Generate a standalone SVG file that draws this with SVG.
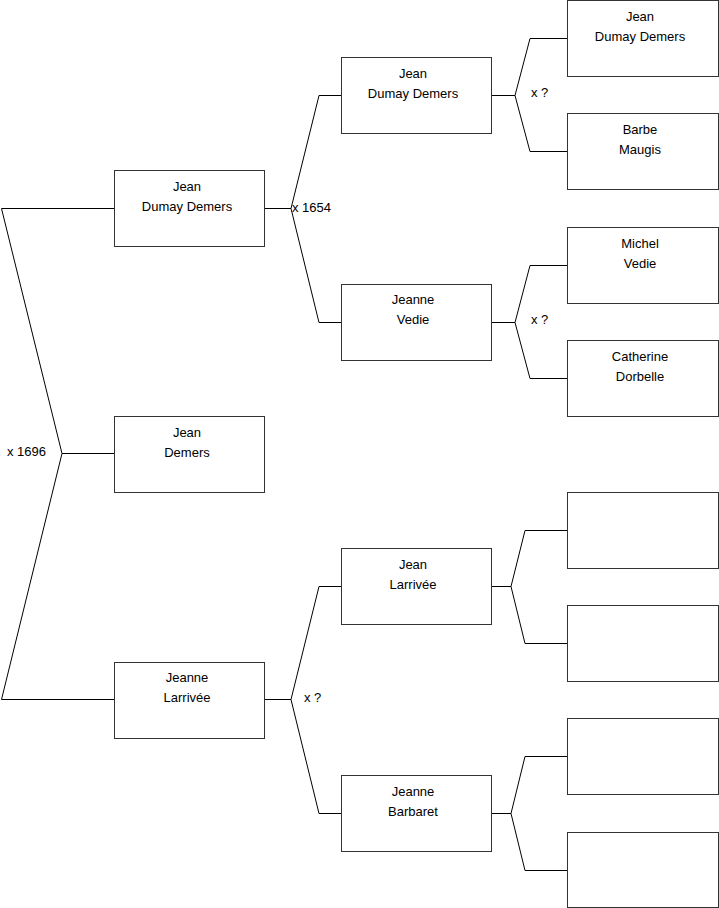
<svg xmlns="http://www.w3.org/2000/svg" width="719" height="908" viewBox="0 0 719 908">
<style>
.box{fill:#fff;stroke:#333;stroke-width:1}
.ln{fill:none;stroke:#000;stroke-width:1}
text{font-family:"Liberation Sans",Arial,sans-serif;font-size:13px;fill:#000}
.c{text-anchor:middle}
</style>
<rect width="719" height="908" fill="#fff"/>
<g id="connectors">
<path class="ln" d="M114,208.5H1.5L62,453.5L1.5,699.5H114M62,453.5H114"/>
<path class="ln" d="M265,208.5H291M341,95.5H319L291,208.5L319,322.5H341"/>
<path class="ln" d="M265,699.5H291M341,586.5H319L291,699.5L319,813.5H341"/>
<path class="ln" d="M492,95.5H515M567,38.5H530L515,95.5L530,151.5H567"/>
<path class="ln" d="M492,322.5H515M567,265.5H530L515,322.5L530,378.5H567"/>
<path class="ln" d="M492,586.5H511M567,530.5H525L511,586.5L525,643.5H567"/>
<path class="ln" d="M492,813.5H511M567,756.5H525L511,813.5L525,870.5H567"/>
<text x="7" y="456">x 1696</text>
<text x="292" y="212">x 1654</text>
<text x="304" y="702">x ?</text>
<text x="531" y="97">x ?</text>
<text x="531" y="324">x ?</text>
</g>
<g id="n1"><rect class="box" x="114.5" y="170.5" width="150" height="76"/><text class="c" x="187" y="191">Jean</text><text class="c" x="187" y="211">Dumay Demers</text></g>
<g id="n0"><rect class="box" x="114.5" y="416.5" width="150" height="76"/><text class="c" x="187" y="437">Jean</text><text class="c" x="187" y="457">Demers</text></g>
<g id="n2"><rect class="box" x="114.5" y="662.5" width="150" height="76"/><text class="c" x="187" y="682">Jeanne</text><text class="c" x="187" y="702">Larrivée</text></g>
<g id="n3"><rect class="box" x="341.5" y="57.5" width="150" height="76"/><text class="c" x="413" y="78">Jean</text><text class="c" x="413" y="98">Dumay Demers</text></g>
<g id="n4"><rect class="box" x="341.5" y="284.5" width="150" height="76"/><text class="c" x="413" y="304">Jeanne</text><text class="c" x="413" y="324">Vedie</text></g>
<g id="n5"><rect class="box" x="341.5" y="548.5" width="150" height="76"/><text class="c" x="413" y="569">Jean</text><text class="c" x="413" y="589">Larrivée</text></g>
<g id="n6"><rect class="box" x="341.5" y="775.5" width="150" height="76"/><text class="c" x="413" y="796">Jeanne</text><text class="c" x="413" y="816">Barbaret</text></g>
<g id="n7"><rect class="box" x="567.5" y="0.5" width="151" height="76"/><text class="c" x="640" y="21">Jean</text><text class="c" x="640" y="41">Dumay Demers</text></g>
<g id="n8"><rect class="box" x="567.5" y="113.5" width="151" height="76"/><text class="c" x="640" y="134">Barbe</text><text class="c" x="640" y="154">Maugis</text></g>
<g id="n9"><rect class="box" x="567.5" y="227.5" width="151" height="76"/><text class="c" x="640" y="248">Michel</text><text class="c" x="640" y="268">Vedie</text></g>
<g id="n10"><rect class="box" x="567.5" y="340.5" width="151" height="76"/><text class="c" x="640" y="361">Catherine</text><text class="c" x="640" y="381">Dorbelle</text></g>
<g id="n11"><rect class="box" x="567.5" y="492.5" width="151" height="76"/></g>
<g id="n12"><rect class="box" x="567.5" y="605.5" width="151" height="76"/></g>
<g id="n13"><rect class="box" x="567.5" y="718.5" width="151" height="76"/></g>
<g id="n14"><rect class="box" x="567.5" y="832.5" width="151" height="75"/></g>
</svg>
